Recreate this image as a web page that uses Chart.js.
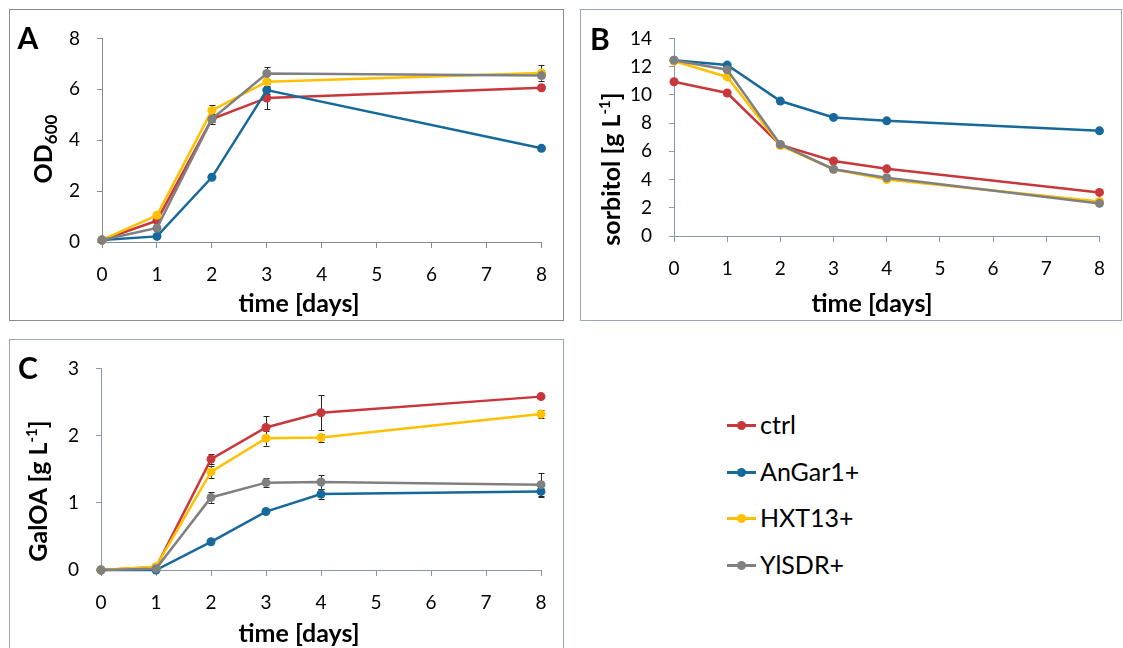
<!DOCTYPE html>
<html><head><meta charset="utf-8">
<script src="https://cdn.jsdelivr.net/npm/chart.js@4.4.1/dist/chart.umd.min.js"></script>
<style>
html,body{margin:0;padding:0;background:#fff;width:1123px;height:648px;overflow:hidden;font-family:Lato,"Open Sans",sans-serif;color:#000;}
.box{position:absolute;box-sizing:border-box;border:1px solid #8c8c8c;}
.boxb{border-color:#9aa7ba;}
canvas{position:absolute;}
.t{position:absolute;font-weight:bold;white-space:nowrap;transform:translate(-50%,-50%);line-height:1;}
.ty{transform:translate(-50%,-50%) rotate(-90deg);}
.letter{font-size:30px;}
.xt{font-size:25px;}
.yt{font-size:25px;}
sub{font-size:17px;vertical-align:-5px;}
sup{font-size:15px;vertical-align:10px;}
.leg{position:absolute;font-size:25px;white-space:nowrap;line-height:1;}
.leg .ln{position:absolute;left:0;top:0;width:29px;height:3px;}
.leg .dt{position:absolute;left:10px;top:-3px;width:9px;height:9px;border-radius:50%;}
</style></head>
<body>
<div class="box" style="left:9px;top:9px;width:555px;height:312px;"></div>
<div class="box boxb" style="left:580px;top:9px;width:542px;height:312px;"></div>
<div class="box boxb" style="left:9px;top:339px;width:555px;height:330px;"></div>
<canvas id="cA" width="552" height="310" style="left:10px;top:10px;width:552px;height:310px;"></canvas>
<canvas id="cB" width="539" height="310" style="left:581px;top:10px;width:539px;height:310px;"></canvas>
<canvas id="cC" width="552" height="308" style="left:10px;top:340px;width:552px;height:308px;"></canvas>

<div class="t letter" style="left:28px;top:37px;">A</div>
<div class="t letter" style="left:600px;top:38px;">B</div>
<div class="t letter" style="left:28px;top:367px;">C</div>

<div class="t xt" style="left:299px;top:302px;">time [days]</div>
<div class="t xt" style="left:872px;top:302px;">time [days]</div>
<div class="t xt" style="left:299px;top:632px;">time [days]</div>

<div class="t yt ty" style="left:44px;top:149px;">OD<sub>600</sub></div>
<div class="t yt ty" style="left:610px;top:169px;">sorbitol [g L<sup>-1</sup>]</div>
<div class="t yt ty" style="left:37px;top:491px;">GalOA [g L<sup>-1</sup>]</div>

<div id="legend"></div>

<script>
// ---- data ----
const seriesNames = ["ctrl", "AnGar1+", "HXT13+", "YlSDR+"];
const seriesColors = ["#C8373B", "#17699B", "#FFC000", "#808080"];
const xTickLabels = [0, 1, 2, 3, 4, 5, 6, 7, 8];

// Panel A: OD600
const daysA = [0, 1, 2, 3, 8];
const odCtrl   = [0.08, 0.84, 4.83, 5.66, 6.06];
const odAnGar1 = [0.08, 0.22, 2.54, 5.97, 3.68];
const odHXT13  = [0.08, 1.05, 5.17, 6.30, 6.64];
const odYlSDR  = [0.08, 0.55, 4.83, 6.62, 6.54];
const odErrCtrl   = [0, 0, 0.10, 0.45, 0];
const odErrAnGar1 = [0, 0, 0, 0.15, 0];
const odErrHXT13  = [0, 0, 0.20, 0.10, 0.30];
const odErrYlSDR  = [0, 0, 0.18, 0.25, 0.10];
const yTicksA = [0, 2, 4, 6, 8];

// Panel B: sorbitol [g/L]
const daysBC = [0, 1, 2, 3, 4, 8];
const sorCtrl   = [10.93, 10.13, 6.45, 5.31, 4.76, 3.09];
const sorAnGar1 = [12.45, 12.11, 9.56, 8.40, 8.16, 7.45];
const sorHXT13  = [12.40, 11.27, 6.42, 4.73, 4.00, 2.45];
const sorYlSDR  = [12.45, 11.78, 6.49, 4.73, 4.13, 2.31];
const sorErrCtrl   = [0, 0, 0, 0, 0, 0];
const sorErrAnGar1 = [0, 0, 0, 0, 0, 0];
const sorErrHXT13  = [0, 0, 0, 0, 0, 0];
const sorErrYlSDR  = [0, 0, 0, 0, 0, 0];
const yTicksB = [0, 2, 4, 6, 8, 10, 12, 14];

// Panel C: GalOA [g/L]
const galCtrl   = [0, 0.04, 1.65, 2.12, 2.34, 2.58];
const galAnGar1 = [0, 0.00, 0.42, 0.87, 1.13, 1.17];
const galHXT13  = [0, 0.05, 1.46, 1.96, 1.97, 2.32];
const galYlSDR  = [0, 0.02, 1.08, 1.30, 1.31, 1.27];
const galErrCtrl   = [0, 0, 0.07, 0.17, 0.26, 0];
const galErrAnGar1 = [0, 0, 0, 0, 0.07, 0.09];
const galErrHXT13  = [0, 0, 0.09, 0.11, 0.06, 0.06];
const galErrYlSDR  = [0, 0, 0.08, 0.07, 0.10, 0.17];
const yTicksC = [0, 1, 2, 3];

// ---- helpers ----
const errorBars = {
  id: 'errorBars',
  beforeDatasetsDraw(chart) {
    const ctx = chart.ctx, xs = chart.scales.x, ys = chart.scales.y;
    ctx.save();
    ctx.strokeStyle = '#262626';
    ctx.lineWidth = 1;
    chart.data.datasets.forEach(ds => {
      ds.data.forEach((p, i) => {
        const e = ds.err[i];
        if (!e) return;
        const x = Math.round(xs.getPixelForValue(p.x)) + 0.5;
        const y1 = ys.getPixelForValue(p.y + e), y2 = ys.getPixelForValue(p.y - e);
        ctx.beginPath();
        ctx.moveTo(x, y1); ctx.lineTo(x, y2);
        ctx.moveTo(x - 3, Math.round(y1) + 0.5); ctx.lineTo(x + 3, Math.round(y1) + 0.5);
        ctx.moveTo(x - 3, Math.round(y2) + 0.5); ctx.lineTo(x + 3, Math.round(y2) + 0.5);
        ctx.stroke();
      });
    });
    ctx.restore();
  }
};

function mkSeries(days, vals, errs) {
  return vals.map((v, k) => ({
    label: seriesNames[k],
    data: days.map((d, i) => ({x: d, y: v[i]})),
    err: errs[k],
    borderColor: seriesColors[k],
    backgroundColor: seriesColors[k],
    pointBackgroundColor: seriesColors[k],
    pointBorderColor: seriesColors[k],
    borderWidth: 2.5,
    pointRadius: 4.5,
    pointBorderWidth: 0,
    tension: 0,
    clip: false,
    order: 3 - k
  }));
}

function mkChart(id, datasets, yTicks, axisColor, geo) {
  new Chart(document.getElementById(id), {
    type: 'line',
    data: {datasets},
    plugins: [errorBars],
    options: {
      responsive: false,
      animation: false,
      events: [],
      layout: {autoPadding: false, padding: {top: geo.top, right: geo.right, left: 0, bottom: 0}},
      plugins: {legend: {display: false}, tooltip: {enabled: false}},
      scales: {
        x: {
          type: 'linear', min: xTickLabels[0], max: xTickLabels[xTickLabels.length - 1],
          afterBuildTicks: s => { s.ticks = xTickLabels.map(v => ({value: v})); },
          afterFit: s => { s.height = geo.xh; },
          grid: {display: true, drawOnChartArea: false, drawTicks: true, tickLength: 6, color: axisColor, lineWidth: 1},
          border: {display: true, color: axisColor, width: 1},
          ticks: {color: '#000', font: {family: 'Lato', size: 19}, padding: 15, maxRotation: 0, autoSkip: false}
        },
        y: {
          type: 'linear', min: yTicks[0], max: yTicks[yTicks.length - 1],
          afterBuildTicks: s => { s.ticks = yTicks.map(v => ({value: v})); },
          afterFit: s => { s.width = geo.yw; },
          grid: {display: true, drawOnChartArea: false, drawTicks: true, tickLength: 5, color: axisColor, lineWidth: 1},
          border: {display: true, color: axisColor, width: 1},
          ticks: {color: '#000', font: {family: 'Lato', size: 19}, padding: 17}
        }
      }
    }
  });
}

mkChart('cA', mkSeries(daysA, [odCtrl, odAnGar1, odHXT13, odYlSDR], [odErrCtrl, odErrAnGar1, odErrHXT13, odErrYlSDR]),
  yTicksA, '#8a8a8a', {top: 15, right: 18, yw: 92, xh: 78});
mkChart('cB', mkSeries(daysBC, [sorCtrl, sorAnGar1, sorHXT13, sorYlSDR], [sorErrCtrl, sorErrAnGar1, sorErrHXT13, sorErrYlSDR]),
  yTicksB, '#8797ae', {top: 16, right: 8, yw: 93, xh: 84});
mkChart('cC', mkSeries(daysBC, [galCtrl, galAnGar1, galHXT13, galYlSDR], [galErrCtrl, galErrAnGar1, galErrHXT13, galErrYlSDR]),
  yTicksC, '#8797ae', {top: 15, right: 21, yw: 91, xh: 78});

// ---- legend ----
const legY = [425, 472, 518, 565];
const leg = document.getElementById('legend');
seriesNames.forEach((n, k) => {
  const d = document.createElement('div');
  d.className = 'leg';
  d.style.left = '727px';
  d.style.top = (legY[k] - 1) + 'px';
  d.innerHTML = '<span class="ln" style="background:' + seriesColors[k] + '"></span>' +
    '<span class="dt" style="background:' + seriesColors[k] + '"></span>' +
    '<span style="position:absolute;left:33px;top:-12px;">' + n + '</span>';
  leg.appendChild(d);
});
</script>
</body></html>
